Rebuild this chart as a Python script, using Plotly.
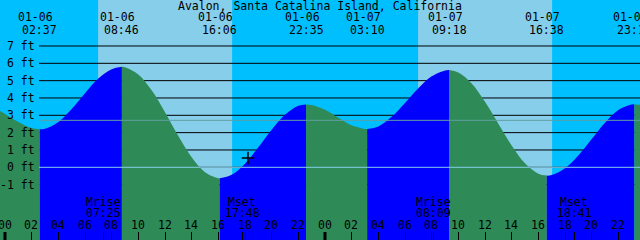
import plotly.graph_objects as go

title_text = "Avalon, Santa Catalina Island, California"

# Tide extrema (hours since 01-06 00:00)
ext_hours = [2.617, 8.767, 16.1, 22.583, 27.167, 33.3, 40.633, 47.2]
ext_heights = [2.19, 5.80, -0.63, 3.63, 2.21, 5.61, -0.48, 3.63]
ext_dates = ["01-06", "01-06", "01-06", "01-06", "01-07", "01-07", "01-07", "01-07"]
ext_times = ["02:37", "08:46", "16:06", "22:35", "03:10", "09:18", "16:38", "23:12"]

# Tide heights (ft), hourly
curve_hours = [-0.375, 0, 1, 2, 3, 4, 5, 6, 7, 8, 9, 10, 11, 12, 13, 14, 15, 16,
               17, 18, 19, 20, 21, 22, 23, 24, 25, 26, 27, 28, 29, 30, 31, 32, 33,
               34, 35, 36, 37, 38, 39, 40, 41, 42, 43, 44, 45, 46, 47, 47.625]
curve_heights = [3.25, 3.08, 2.62, 2.27, 2.22, 2.62, 3.37, 4.28, 5.12, 5.66, 5.78, 5.36,
                 4.44, 3.18, 1.81, 0.58, -0.28, -0.63, -0.43, 0.21, 1.15, 2.17, 3.03,
                 3.55, 3.60, 3.32, 2.86, 2.42, 2.21, 2.36, 2.91, 3.71, 4.56, 5.25, 5.59,
                 5.47, 4.84, 3.78, 2.52, 1.26, 0.23, -0.37, -0.45, -0.06, 0.68, 1.63,
                 2.57, 3.30, 3.62, 3.61]

# Daylight intervals (hours)
day_starts = [6.983, 30.983]
day_ends = [17.033, 41.033]

# Moon events
moon_hours = [7.417, 17.8, 32.15, 42.683]
moon_names = ["Mrise", "Mset", "Mrise", "Mset"]
moon_times = ["07:25", "17:48", "08:09", "18:41"]

# Hour ticks
hour_ticks = list(range(0, 48, 2))
hour_labels = ["%02d" % (h % 24) for h in hour_ticks]
midnights = [0, 24]

# Reference levels
grid_levels = [-1, 0, 1, 2, 3, 4, 5, 6, 7]
grid_labels = ["%d ft" % v for v in grid_levels]
msl_level = 2.71
datum_level = 0

now_hour = 18.225
now_height = 0.54

X_RANGE = [-0.375, 47.625]
Y_RANGE = [-4.195, 9.654]
BOTTOM = -6

NIGHT = "#00BFFF"
DAY = "#87CEEB"
FLOOD = "#0000FF"
EBB = "#2E8B57"
FONT = dict(family="DejaVu Sans Mono", size=11.5, color="black")

# merge curve points with extrema
pts = sorted(set(zip(curve_hours, curve_heights)) | set(zip(ext_hours, ext_heights)))

fig = go.Figure()

bounds = [X_RANGE[0] - 1] + ext_hours + [X_RANGE[1] + 1]
for i in range(len(bounds) - 1):
    a, b = bounds[i], bounds[i + 1]
    seg = [(h, v) for (h, v) in pts if a <= h <= b]
    if len(seg) < 2:
        continue
    xs = [p[0] for p in seg]
    ys = [p[1] for p in seg]
    rising = ys[-1] > ys[0]
    fig.add_trace(go.Scatter(x=[xs[0], xs[-1]], y=[BOTTOM, BOTTOM], mode="lines",
                             line=dict(width=0), hoverinfo="skip", showlegend=False))
    fig.add_trace(go.Scatter(x=xs, y=ys, mode="lines", line=dict(width=0, shape="spline"),
                             fill="tonexty", fillcolor=FLOOD if rising else EBB,
                             hoverinfo="skip", showlegend=False))

fig.add_trace(go.Scatter(x=[now_hour], y=[now_height], mode="markers",
                         marker=dict(symbol="cross-thin", size=9,
                                     line=dict(width=1.5, color="black")),
                         showlegend=False, hoverinfo="skip"))

shapes = []
for s, e in zip(day_starts, day_ends):
    shapes.append(dict(type="rect", xref="x", yref="paper", x0=s, x1=e, y0=0, y1=1,
                       fillcolor=DAY, line=dict(width=0), layer="below"))
for lv in grid_levels:
    shapes.append(dict(type="line", xref="paper", yref="y", x0=39 / 640, x1=1, y0=lv, y1=lv,
                       line=dict(color="black", width=1), layer="below"))
shapes.append(dict(type="line", xref="paper", yref="y", x0=39 / 640, x1=1, y0=msl_level,
                   y1=msl_level, line=dict(color="#5F9EA0", width=1), layer="above"))
shapes.append(dict(type="line", xref="paper", yref="y", x0=39 / 640, x1=1, y0=datum_level,
                   y1=datum_level, line=dict(color=DAY, width=1), layer="above"))
for m in midnights:
    shapes.append(dict(type="line", xref="x", yref="paper", x0=m, x1=m, y0=0, y1=8 / 240,
                       line=dict(color="black", width=3), layer="above"))

ann = []
common = dict(showarrow=False, font=FONT, borderpad=0, yanchor="middle")
ann.append(dict(text=title_text, x=0.5, y=1 - 6 / 240, xref="paper", yref="paper",
                xanchor="center", **common))
for h, d, t in zip(ext_hours, ext_dates, ext_times):
    ann.append(dict(text=d, x=h, y=1 - 17.5 / 240, xref="x", yref="paper", xshift=-4,
                    xanchor="center", **common))
    ann.append(dict(text=t, x=h, y=1 - 29.5 / 240, xref="x", yref="paper",
                    xanchor="center", **common))
for lv, lab in zip(grid_levels, grid_labels):
    ann.append(dict(text=lab, x=36 / 640, y=lv, xref="paper", yref="y",
                    xanchor="right", **common))
for h, lab in zip(hour_ticks, hour_labels):
    ann.append(dict(text=lab, x=h, y=1 - 225 / 240, xref="x", yref="paper", xshift=-0.5,
                    xanchor="center", **common))
for h, n, t in zip(moon_hours, moon_names, moon_times):
    ann.append(dict(text=n, x=h, y=1 - 201.5 / 240, xref="x", yref="paper",
                    xanchor="center", **common))
    ann.append(dict(text=t, x=h, y=1 - 213 / 240, xref="x", yref="paper",
                    xanchor="center", **common))

fig.update_layout(
    width=640, height=240, autosize=False,
    margin=dict(l=0, r=0, t=0, b=0, pad=0),
    plot_bgcolor=NIGHT, paper_bgcolor=NIGHT,
    showlegend=False,
    shapes=shapes, annotations=ann,
    xaxis=dict(range=X_RANGE, showgrid=False, zeroline=False, showline=False,
               showticklabels=False, ticks="inside", ticklen=8, tickwidth=1,
               tickcolor="black", tickmode="array",
               tickvals=sorted(hour_ticks + moon_hours), fixedrange=True),
    yaxis=dict(range=Y_RANGE, showgrid=False, zeroline=False, showline=False,
               showticklabels=False, ticks="", fixedrange=True),
)

fig.write_html("out.html", config=dict(displayModeBar=False))
